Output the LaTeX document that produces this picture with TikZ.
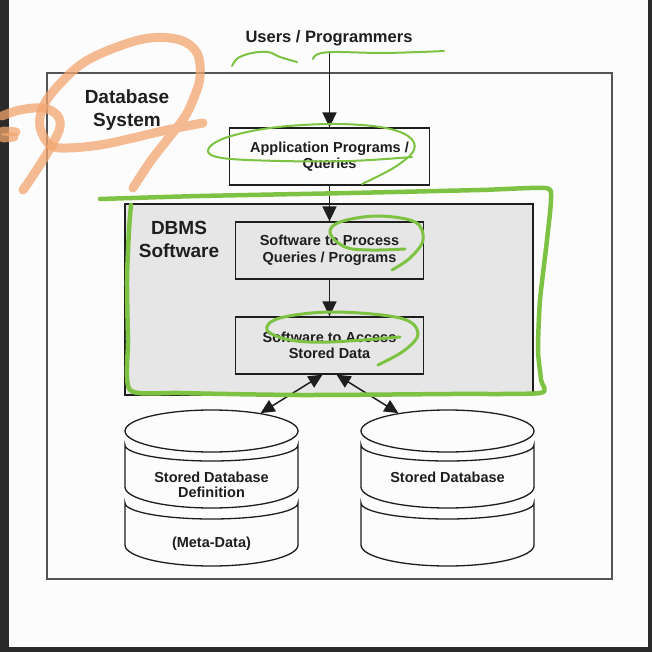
\documentclass[tikz,border=0pt]{standalone}
\usepackage{fontspec}
\setmainfont{Liberation Sans}
\usetikzlibrary{arrows.meta,shapes.geometric}
\definecolor{ink}{HTML}{1E1E1E}
\definecolor{frame}{HTML}{555555}
\definecolor{dbmsgray}{HTML}{E6E6E6}
\definecolor{screen}{HTML}{2A2A2A}
\definecolor{paper}{HTML}{FCFCFC}
\definecolor{pengreen}{HTML}{7DC242}
\definecolor{penorange}{HTML}{F2A56E}

\begin{document}
\begin{tikzpicture}[x=1pt, y=-1pt]
    % Node styles
    \tikzstyle{lbl} = [align=center, font=\fontsize{19}{23}\selectfont\bfseries, text=ink, inner sep=0pt]
    \tikzstyle{box} = [draw=ink, line width=1.3pt, align=center, font=\fontsize{14.5}{16.5}\selectfont\bfseries, text=ink, minimum height=57pt, inner sep=0pt]
    \tikzstyle{txt} = [align=center, font=\fontsize{14.5}{15.5}\selectfont\bfseries, text=ink, inner sep=0pt]
    \tikzstyle{disk} = [ellipse, draw=ink, line width=1.3pt, minimum width=173pt, minimum height=42pt, inner sep=0pt]
    \tikzstyle{wire} = [draw=ink, line width=1.5pt]
    \tikzstyle{flowarrow} = [-{Triangle[length=15pt,width=14pt]}]
    \tikzstyle{twoway} = [{Triangle[length=14pt,width=13pt]}-{Triangle[length=14pt,width=13pt]}]
    \tikzstyle{greenpen} = [draw=pengreen, line width=2.5pt, line cap=round, line join=round]
    \tikzstyle{orangepen} = [draw=penorange, line width=9pt, line cap=round, line join=round, draw opacity=0.75]

    % Page
    \fill[screen] (0,0) rectangle (652,652);
    \fill[paper] (9,0) rectangle (648,647);
    \useasboundingbox (0,0) rectangle (652,652);

    % Nodes
    \node[draw=frame, line width=1.6pt, minimum width=565pt, minimum height=506pt, inner sep=0pt] (sys) at (329.5,326) {};
    \node[lbl] (syslbl) at (127,110.5) {Database\\System};
    \node[anchor=base, font=\fontsize{16.5}{19}\selectfont\bfseries, text=ink, inner sep=0pt] (usr) at (329,43) {Users / Programmers};
    \coordinate (usrend) at (329.5,53);

    \node[box, minimum width=200pt] (app) at (329.5,156.5) {Application Programs /\\Queries};

    \node[draw=ink, fill=dbmsgray, line width=1.3pt, minimum width=408pt, minimum height=191pt, inner sep=0pt] (dbms) at (329,299.5) {};
    \node[lbl] (dbmslbl) at (179,239) {DBMS\\Software};
    \node[box, minimum width=188pt] (proc) at (329.5,250.5) {Software to Process\\Queries / Programs};
    \node[box, minimum width=188pt] (acc) at (329.5,345.5) {Software to Access\\Stored Data};

    % Disks
    \foreach \cx in {211.5,447.5} {
        \draw[wire, line width=1.3pt] (\cx-86.5,445) arc[start angle=180, end angle=360, x radius=86.5pt, y radius=16pt]
            -- (\cx+86.5,487) arc[start angle=0, end angle=-180, x radius=86.5pt, y radius=21pt] -- cycle;
        \draw[wire, line width=1.3pt] (\cx-86.5,503) arc[start angle=180, end angle=360, x radius=86.5pt, y radius=16pt]
            -- (\cx+86.5,545) arc[start angle=0, end angle=-180, x radius=86.5pt, y radius=21pt] -- cycle;
    }
    \node[disk] (meta) at (211.5,431) {};
    \node[disk] (data) at (447.5,431) {};
    \node[txt] (metalbl) at (211.5,485) {Stored Database\\Definition};
    \node[txt] (metanote) at (211.5,544) {(Meta-Data)};
    \node[txt] (datalbl) at (447.5,477.5) {Stored Database};

    % Edges
    \coordinate (accl) at ([xshift=-7pt]acc.south);
    \coordinate (accr) at ([xshift=7pt]acc.south);
    \draw[wire, flowarrow] (usrend) -- (app);
    \draw[wire, flowarrow] (app) -- (proc);
    \draw[wire, flowarrow] (proc) -- (acc);
    \draw[wire, twoway] (accl) -- (meta.20);
    \draw[wire, twoway] (accr) -- (data.160);

    % Marker strokes
    \draw[orangepen] plot[smooth, tension=0.6] coordinates {(203,123) (167,130) (133,138) (100,145) (67,148) (50,145) (40,127) (43,107) (57,87) (83,63) (117,47) (150,38) (180,40) (197,53) (200,77) (193,100) (184,118) (167,140) (150,162) (133,188)};
    \draw[orangepen] plot[smooth, tension=0.6] coordinates {(2,116) (20,110) (43,108) (57,115) (60,127) (53,143) (43,160) (30,180) (23,190)};
    \draw[orangepen] (3,131) -- (16,132);
    \draw[orangepen] (3,138) -- (14,137);

    \draw[greenpen, line width=2pt] plot[smooth, tension=0.6] coordinates {(232,66) (238,58) (252,53) (268,52) (280,57) (297,62)};
    \draw[greenpen, line width=2pt] plot[smooth, tension=0.6] coordinates {(313,59) (318,54) (335,52) (380,53) (420,52) (444,51)};
    \draw[greenpen, line width=2pt] plot[smooth, tension=0.6] coordinates {(362,184) (395,167) (414,150) (408,136) (380,127) (330,124) (270,128) (225,138) (208,150) (222,158) (280,161) (350,161) (412,157)};
    \draw[greenpen, line width=4.5pt] plot[smooth, tension=0.4] coordinates {(100,199) (200,196) (350,193) (480,190) (545,188) (551,198) (547,240) (540,300) (538,350) (541,380) (540,393) (450,394) (300,395) (180,393) (130,390) (128,340) (127,280) (129,230) (131,205)};
    \draw[greenpen, line width=3pt] plot[smooth, tension=0.6] coordinates {(392,270) (410,258) (423,240) (415,222) (377,216) (340,222) (330,233) (345,247) (370,250) (405,249)};
    \draw[greenpen, line width=3pt] plot[smooth, tension=0.6] coordinates {(378,365) (405,350) (418,333) (400,318) (333,312) (280,318) (267,330) (290,340) (330,342) (400,337)};

\end{tikzpicture}
\end{document}
